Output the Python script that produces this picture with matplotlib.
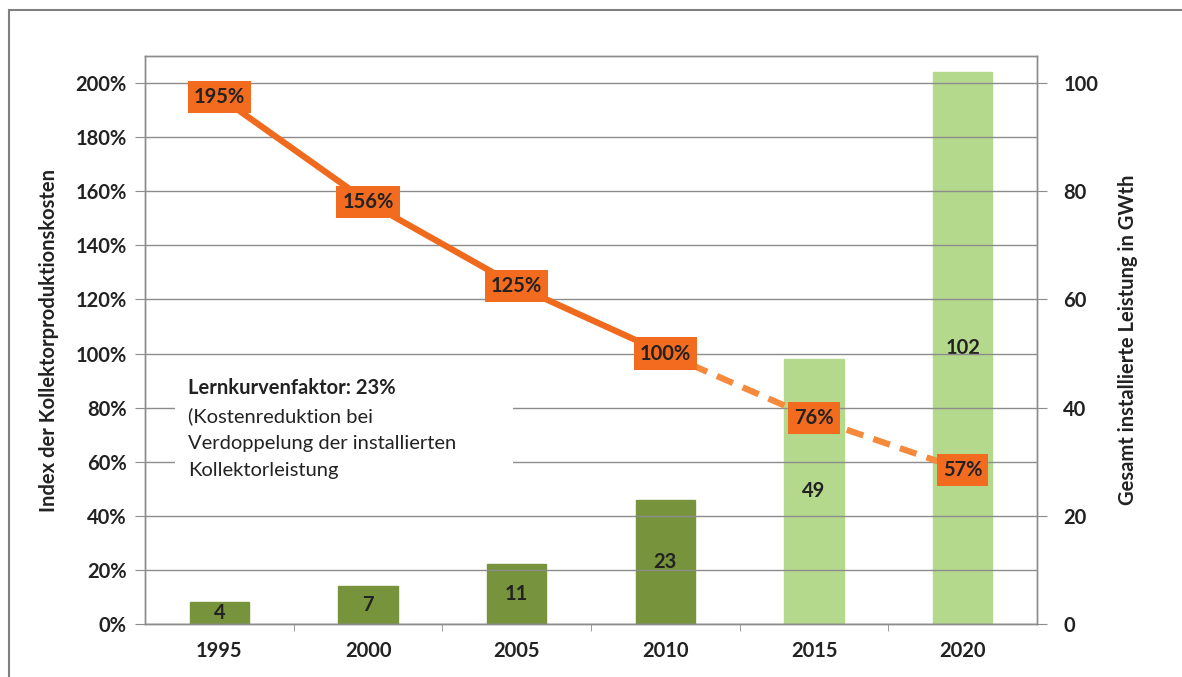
import matplotlib
matplotlib.use('Agg')

import matplotlib.pyplot as plt
from matplotlib.patches import Rectangle

plt.rcParams['font.family'] = ['Lato', 'DejaVu Sans']

# Data
years = ['1995', '2000', '2005', '2010', '2015', '2020']
cost_index = [195, 156, 125, 100, 76, 57]          # % of 2010 cost
capacity_gwth = [4, 7, 11, 23, 49, 102]            # installed capacity
forecast = [False, False, False, False, True, True]
note_title = 'Lernkurvenfaktor: 23%'
note_lines = ['(Kostenreduktion bei', 'Verdoppelung der installierten',
              'Kollektorleistung']

bar_dark = '#77933C'
bar_light = '#B5D98C'
line_solid = '#F06A1E'
line_dash = '#F58A3C'
label_bg = '#F26B1F'
text_col = '#222222'
fs = 14.5

fig = plt.figure(figsize=(11.82, 6.77), dpi=100)
ax = fig.add_axes([145 / 1182, 1 - 624 / 677, 892 / 1182, 568 / 677])
ax2 = ax.twinx()

x = list(range(len(years)))

# Bars on the right axis
colors = [bar_light if f else bar_dark for f in forecast]
ax2.bar(x, capacity_gwth, width=0.4, color=colors, edgecolor=colors, zorder=2)
for xi, v in zip(x, capacity_gwth):
    ax2.text(xi, v / 2, str(v), ha='center', va='center', fontsize=fs,
             fontweight='bold', color=text_col, zorder=3)

# Cost line on the left axis, drawn above the bars
ax.set_zorder(ax2.get_zorder() + 1)
ax.patch.set_visible(False)
n_hist = forecast.index(True) - 1
ax.plot(x[:n_hist + 1], cost_index[:n_hist + 1], color=line_solid, lw=4.5,
        solid_capstyle='round', zorder=3)
ax.plot(x[n_hist:], cost_index[n_hist:], color=line_dash, lw=4.5,
        dashes=(2.8, 1.7), zorder=3)
for xi, v in zip(x, cost_index):
    ax.text(xi, v, f'{v}%', ha='center', va='center', fontsize=fs,
            fontweight='bold', color=text_col, zorder=5,
            bbox=dict(boxstyle='square,pad=0.3', fc=label_bg, ec='none'))

# Axes
ax.set_xlim(-0.5, len(years) - 0.5)
ax.set_ylim(0, 210)
ax2.set_ylim(0, 105)
ax.set_yticks(range(0, 201, 20))
ax.set_yticklabels([f'{t}%' for t in range(0, 201, 20)])
ax2.set_yticks(range(0, 101, 20))
ax.set_xticks(x)
ax.set_xticklabels(years)
ax.set_xticks([i + 0.5 for i in x[:-1]], minor=True)
ax.tick_params(axis='x', which='major', length=0, pad=12)
ax.tick_params(axis='x', which='minor', length=5, color='#8c8c8c')
ax.tick_params(axis='y', length=7, color='#8c8c8c', pad=6)
ax2.tick_params(axis='y', length=7, color='#8c8c8c', pad=12)
for a in (ax, ax2):
    for lab in a.get_xticklabels() + a.get_yticklabels():
        lab.set_fontsize(fs)
        lab.set_fontweight('bold')
        lab.set_color(text_col)
    for s in a.spines.values():
        s.set_color('#8c8c8c')
        s.set_linewidth(1)
ax2.grid(False)
ax.yaxis.grid(True, color='#8c8c8c', lw=1)
ax.set_axisbelow(True)

ax.set_ylabel('Index der Kollektorproduktionskosten', fontsize=fs,
              fontweight='bold', color=text_col, labelpad=12)
ax2.set_ylabel('Gesamt installierte Leistung in GWth', fontsize=fs,
               fontweight='bold', color=text_col, labelpad=14)

# Annotation with white background over the gridlines
ax.add_patch(Rectangle((0.034, 0.245), 0.378, 0.19, transform=ax.transAxes,
                       fc='white', ec='none', zorder=1.5))
line_step = 0.0485
y0 = 0.415
ax.text(0.048, y0, note_title, transform=ax.transAxes, fontsize=fs,
        fontweight='bold', color=text_col, va='center', zorder=6)
for i, line in enumerate(note_lines, start=1):
    ax.text(0.048, y0 - i * line_step, line, transform=ax.transAxes,
            fontsize=fs, color=text_col, va='center', zorder=6)

# Outer frame
fig.patches.append(Rectangle((9 / 1182, -0.01), 1.0, 1 - 10 / 677 + 0.01,
                             transform=fig.transFigure, fill=False,
                             ec='#7f7f7f', lw=1.5))

fig.savefig('out.png', dpi=100)
